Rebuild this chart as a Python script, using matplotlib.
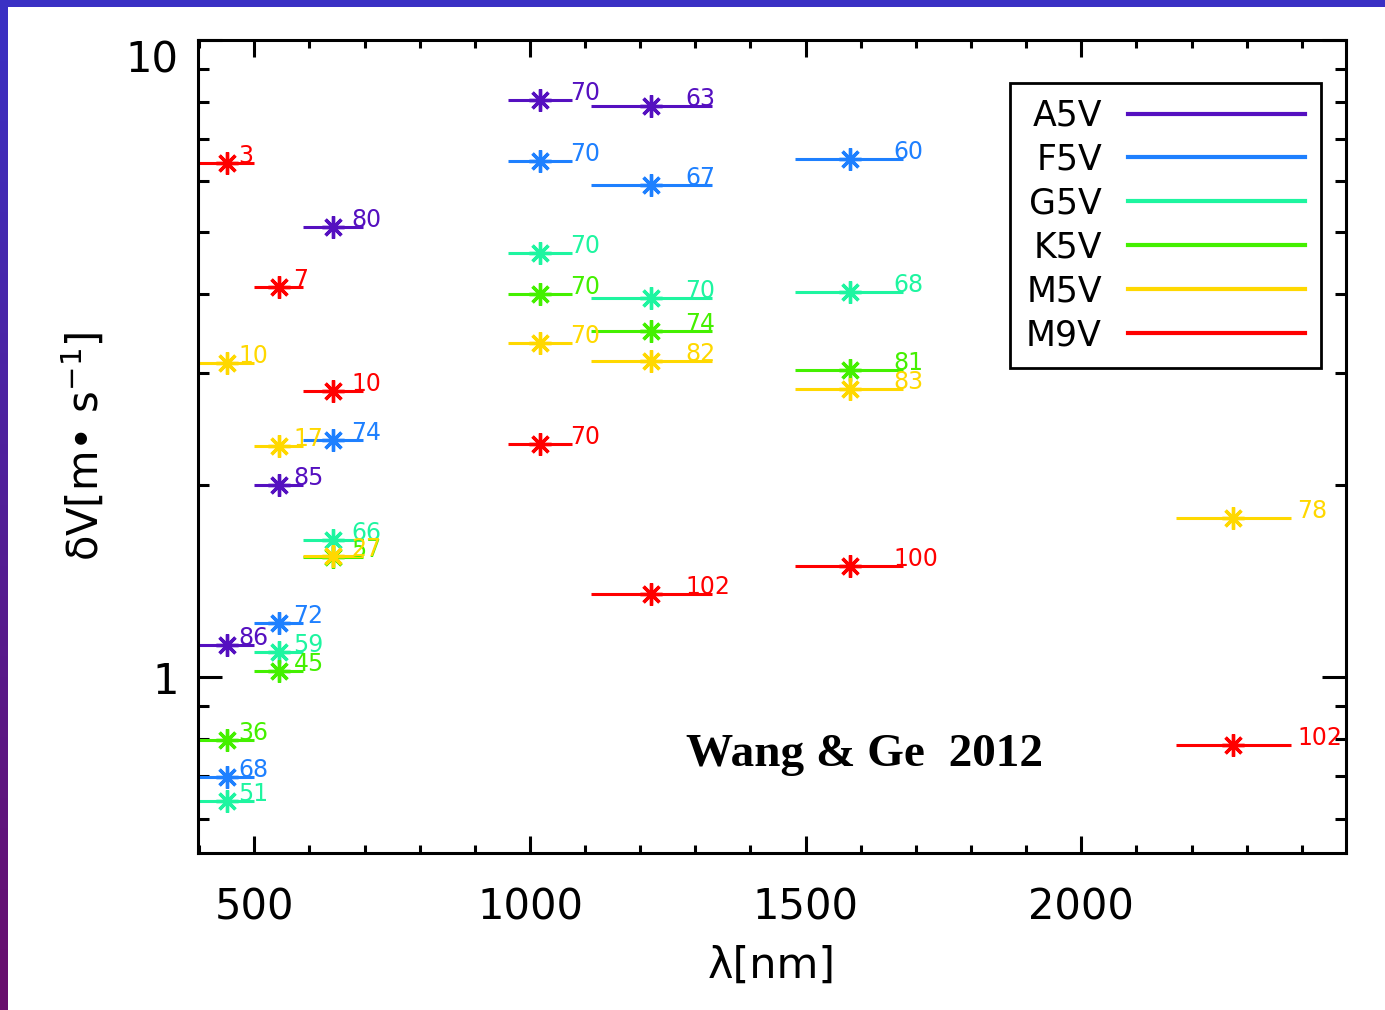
import numpy as np
import matplotlib
matplotlib.use("Agg")
import matplotlib.pyplot as plt
from matplotlib.lines import Line2D
from matplotlib.ticker import FixedLocator, NullFormatter

# photometric bands: centre and range in nm
bands = ['B', 'V', 'R', 'I', 'J', 'H', 'K']
band_center = [450, 545, 643, 1018, 1220, 1580, 2275]
band_lo = [395, 500, 589, 960, 1110, 1480, 2172]
band_hi = [500, 589, 698, 1077, 1330, 1677, 2380]

nan = np.nan
stars = ['A5V', 'F5V', 'G5V', 'K5V', 'M5V', 'M9V']

# photon noise limited RV precision dV [m/s]
dv_A5V = [1.124, 2.00, 5.09, 8.06, 7.87, nan, nan]
dv_F5V = [0.697, 1.215, 2.355, 6.47, 5.93, 6.51, nan]
dv_G5V = [0.640, 1.094, 1.645, 4.64, 3.94, 4.03, nan]
dv_K5V = [0.798, 1.022, 1.542, 4.00, 3.50, 3.04, nan]
dv_M5V = [3.11, 2.31, 1.55, 3.35, 3.13, 2.83, 1.78]
dv_M9V = [6.41, 4.09, 2.81, 2.32, 1.349, 1.493, 0.783]

# numbers printed next to each point
lab_A5V = [86, 85, 80, 70, 63, None, None]
lab_F5V = [68, 72, 74, 70, 67, 60, None]
lab_G5V = [51, 59, 66, 70, 70, 68, None]
lab_K5V = [36, 45, 57, 70, 74, 81, None]
lab_M5V = [10, 17, 27, 70, 82, 83, 78]
lab_M9V = [3, 7, 10, 70, 102, 100, 102]

dvs = [dv_A5V, dv_F5V, dv_G5V, dv_K5V, dv_M5V, dv_M9V]
labs = [lab_A5V, lab_F5V, lab_G5V, lab_K5V, lab_M5V, lab_M9V]
colors = ['#5510c0', '#1e80ff', '#1ef5a0', '#44f000', '#ffd800', '#ff0000']

# where the numbers start (layout only)
label_x = [471, 571, 676, 1073, 1282, 1659, 2392]

fig = plt.figure(figsize=(13.85, 10.10), dpi=100)
fig.patch.set_facecolor('white')

# gradient frame on top and left edge
top = fig.add_axes([0, 1 - 7 / 1010, 1, 7 / 1010])
top.imshow([[[58, 48, 196]]], aspect='auto')
top.axis('off')
left = fig.add_axes([0, 0, 8 / 1385, 1])
grad = np.linspace(0, 1, 100)[:, None]
c0 = np.array([58, 48, 196]) / 255.
c1 = np.array([105, 14, 108]) / 255.
left.imshow((c0 + grad * (c1 - c0))[:, None, :], aspect='auto')
left.axis('off')

ax = fig.add_axes([198 / 1385, 157 / 1010, 1148 / 1385, 813 / 1010])

for dv, lab, col in zip(dvs, labs, colors):
    for i in range(len(bands)):
        if np.isnan(dv[i]):
            continue
        ax.hlines(dv[i], band_lo[i], band_hi[i], color=col, lw=2.2)
        ax.plot(band_center[i], dv[i], ls='none', marker=(8, 2, 0),
                ms=16, mew=2.4, color=col)
        ax.text(label_x[i], dv[i], str(lab[i]), color=col, fontsize=17,
                ha='left', va='baseline')

ax.set_yscale('log')
ax.set_xlim(398, 2480)
ax.set_ylim(0.53, 10)

ax.set_xticks([500, 1000, 1500, 2000])
ax.xaxis.set_minor_locator(FixedLocator(np.arange(400, 2500, 100)))
ax.set_yticks([1, 10], labels=['1', '10'])
ax.yaxis.set_minor_locator(FixedLocator([0.6, 0.7, 0.8, 0.9, 2, 3, 4, 5, 6, 7, 8, 9]))
ax.yaxis.set_minor_formatter(NullFormatter())

ax.tick_params(which='both', direction='in', top=True, right=True, width=2.2,
               labelsize=30)
ax.tick_params(axis='x', which='major', length=12, pad=24)
ax.tick_params(axis='x', which='minor', length=6)
ax.tick_params(axis='y', which='major', length=17, pad=14)
ax.tick_params(axis='y', which='minor', length=8)
ax.get_yticklabels()[1].set_va('top')
for s in ax.spines.values():
    s.set_linewidth(2.2)

ax.set_xlabel('λ[nm]', fontsize=31, labelpad=12)
ax.set_ylabel('δV[m• s$^{-1}$]', fontsize=30, labelpad=13)

handles = [Line2D([], [], color=c, lw=3) for c in colors]
leg = ax.legend(handles, stars, loc='upper right', bbox_to_anchor=(0.978, 0.947),
                borderaxespad=0, markerfirst=False, fontsize=25, handlelength=5.1,
                handletextpad=0.75, labelspacing=0.285, borderpad=0.45,
                fancybox=False, framealpha=1, edgecolor='black')
leg.get_frame().set_linewidth(2)

ax.text(0.425, 0.12, 'Wang & Ge  2012', transform=ax.transAxes,
        fontsize=34, fontweight='bold', family='Liberation Serif',
        ha='left', va='center')

fig.savefig('out.png', dpi=100)
